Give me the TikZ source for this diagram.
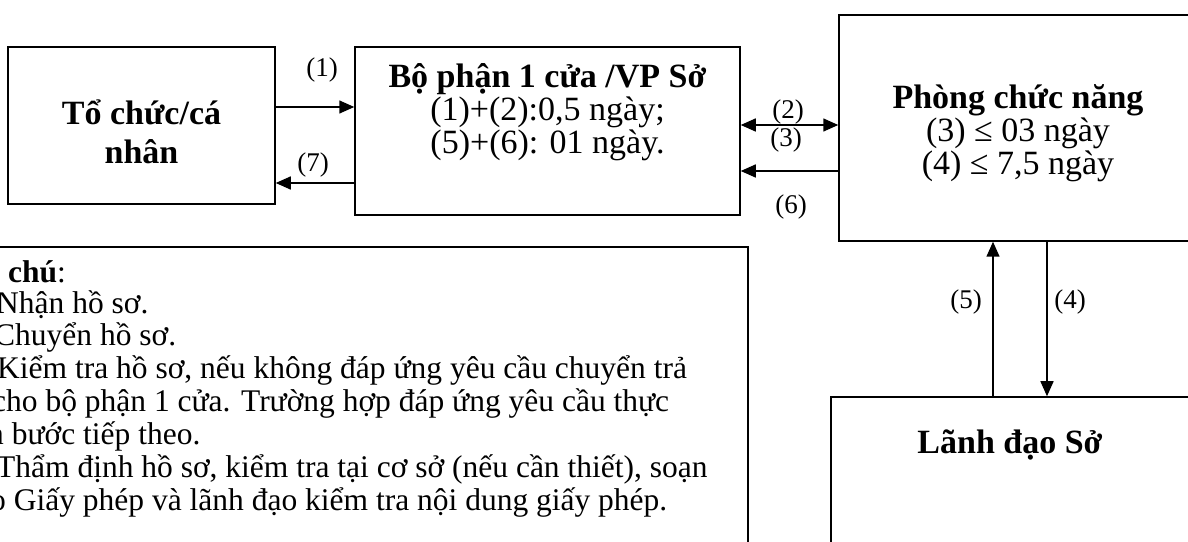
\documentclass[tikz,border=0pt]{standalone}
\usepackage{fontspec}
\setmainfont{Liberation Serif}
\usetikzlibrary{arrows.meta}
\tikzset{
  box/.style={draw, line width=1.5bp, inner sep=0pt},
  flow/.style={line width=1.5bp, -{Triangle[length=15bp,width=13bp]}},
  flowboth/.style={line width=1.5bp, {Triangle[length=15bp,width=13bp]}-{Triangle[length=15bp,width=13bp]}},
  boxtext/.style={font=\fontsize{34bp}{33bp}\selectfont, align=center, inner sep=0pt},
  boldtext/.style={font=\fontsize{34bp}{39bp}\selectfont\bfseries, align=center, inner sep=0pt},
  steplabel/.style={font=\fontsize{27bp}{30bp}\selectfont, inner sep=0pt},
  notetext/.style={font=\fontsize{31.5bp}{34bp}\selectfont, anchor=west, inner sep=0pt},
}
\begin{document}
\begin{tikzpicture}[x=1bp,y=-1bp]
  \useasboundingbox (0,0) rectangle (1188,542);
  \clip (0,0) rectangle (1188,542);
  % boxes
  \node[box, minimum width=267bp, minimum height=157bp] (org) at (141.5,125.5) {};
  \node[box, minimum width=385bp, minimum height=168bp] (onedoor) at (547.5,131) {};
  \node[box, minimum width=358bp, minimum height=226bp] (dept) at (1018,128) {};
  \node[box, minimum width=358bp, minimum height=200bp] (leader) at (1010,497) {};
  \node[box, minimum width=768bp, minimum height=353bp] (note) at (364,423.5) {};
  % box texts
  \node[boldtext] (orgtxt) at (141.5,132) {Tổ chức/cá\\nhân};
  \node[boxtext] (onedoortxt) at (547.5,112) {\textbf{Bộ phận 1 cửa /VP Sở}\\(1)+(2):0,5 ngày;\\(5)+(6): 01 ngày.};
  \node[boxtext] (depttxt) at (1018,133) {\textbf{Phòng chức năng}\\(3) ≤ 03 ngày\\(4) ≤ 7,5 ngày};
  \node[boldtext] (leadertxt) at (1010,445) {Lãnh đạo Sở};
  % connectors
  \draw[flow] (org.east |- 0,107) -- (onedoor.west |- 0,107);
  \draw[flow] (onedoor.west |- 0,183) -- (org.east |- 0,183);
  \draw[flowboth] (onedoor.east |- 0,125) -- (dept.west |- 0,125);
  \draw[flow] (dept.west |- 0,171) -- (onedoor.east |- 0,171);
  \draw[flow] (leader.north -| 993,0) -- (dept.south -| 993,0);
  \draw[flow] (dept.south -| 1047,0) -- (leader.north -| 1047,0);
  % step labels
  \node[steplabel] (s1) at (322,70) {(1)};
  \node[steplabel] (s7) at (313,165) {(7)};
  \node[steplabel] (s2) at (788,112) {(2)};
  \node[steplabel] (s3) at (786,140) {(3)};
  \node[steplabel] (s6) at (791,207) {(6)};
  \node[steplabel] (s5) at (966,302) {(5)};
  \node[steplabel] (s4) at (1070,302) {(4)};
  % note lines
  \node[notetext] (n0) at (8,272) {\textbf{chú}:};
  \node[notetext] (n1) at (-4,305) {Nhận hồ sơ.};
  \node[notetext] (n2) at (-6,337.5) {Chuyển hồ sơ.};
  \node[notetext] (n3) at (-3,370) {Kiểm tra hồ sơ, nếu không đáp ứng yêu cầu chuyển trả};
  \node[notetext] (n4) at (-8,403) {cho bộ phận 1 cửa. Trường hợp đáp ứng yêu cầu thực};
  \node[notetext] (n5) at (-12,436) {n bước tiếp theo.};
  \node[notetext] (n6) at (-4,469) {Thẩm định hồ sơ, kiểm tra tại cơ sở (nếu cần thiết), soạn};
  \node[notetext] (n7) at (-10,502) {o Giấy phép và lãnh đạo kiểm tra nội dung giấy phép.};
\end{tikzpicture}
\end{document}
